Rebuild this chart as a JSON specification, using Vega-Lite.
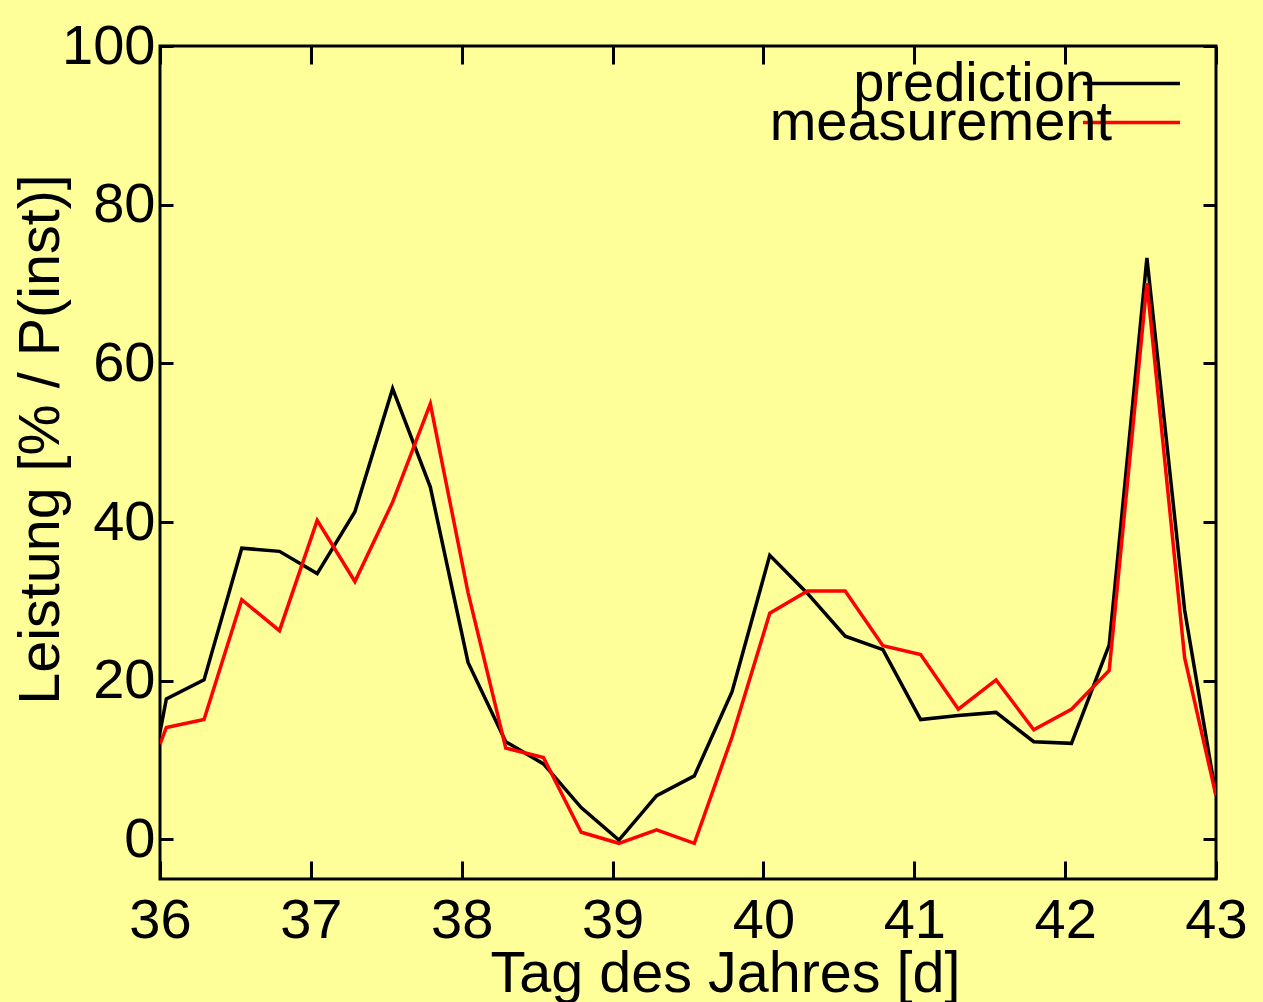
{
  "$schema": "https://vega.github.io/schema/vega-lite/v6.json",
  "autosize": "none",
  "width": 1056,
  "height": 833,
  "padding": {"left": 160, "top": 46, "right": 47, "bottom": 123},
  "background": "#FFFF99",
  "config": {
    "font": "Liberation Sans",
    "view": {"stroke": "#000000", "strokeWidth": 3, "fill": "#FFFF99"},
    "axis": {
      "domain": false,
      "grid": false,
      "tickColor": "#000000",
      "tickWidth": 3,
      "labelColor": "#000000",
      "labelFont": "Liberation Sans",
      "labelFontSize": 56,
      "labelFlush": false,
      "labelOverlap": false,
      "titleColor": "#000000",
      "titleFont": "Liberation Sans",
      "titleFontSize": 57.5,
      "titleFontWeight": "normal"
    },
    "legend": {
      "labelFont": "Liberation Sans",
      "labelFontSize": 56,
      "labelColor": "#000000",
      "labelLimit": 0,
      "orient": "none",
      "padding": 0,
      "symbolType": "stroke",
      "symbolSize": 9409,
      "symbolStrokeWidth": 3.5,
      "labelAlign": "right"
    }
  },
  "data": {
    "values": [
      {"day": 36.0, "value": 13.5, "series": "prediction"},
      {"day": 36.042, "value": 17.7, "series": "prediction"},
      {"day": 36.292, "value": 20.1, "series": "prediction"},
      {"day": 36.542, "value": 36.7, "series": "prediction"},
      {"day": 36.792, "value": 36.3, "series": "prediction"},
      {"day": 37.042, "value": 33.5, "series": "prediction"},
      {"day": 37.292, "value": 41.3, "series": "prediction"},
      {"day": 37.542, "value": 56.8, "series": "prediction"},
      {"day": 37.792, "value": 44.4, "series": "prediction"},
      {"day": 38.042, "value": 22.3, "series": "prediction"},
      {"day": 38.292, "value": 12.3, "series": "prediction"},
      {"day": 38.542, "value": 9.5, "series": "prediction"},
      {"day": 38.792, "value": 4.0, "series": "prediction"},
      {"day": 39.042, "value": -0.1, "series": "prediction"},
      {"day": 39.292, "value": 5.5, "series": "prediction"},
      {"day": 39.542, "value": 8.0, "series": "prediction"},
      {"day": 39.792, "value": 18.6, "series": "prediction"},
      {"day": 40.042, "value": 35.8, "series": "prediction"},
      {"day": 40.292, "value": 31.0, "series": "prediction"},
      {"day": 40.542, "value": 25.6, "series": "prediction"},
      {"day": 40.792, "value": 23.9, "series": "prediction"},
      {"day": 41.042, "value": 15.1, "series": "prediction"},
      {"day": 41.292, "value": 15.6, "series": "prediction"},
      {"day": 41.542, "value": 16.0, "series": "prediction"},
      {"day": 41.792, "value": 12.3, "series": "prediction"},
      {"day": 42.042, "value": 12.1, "series": "prediction"},
      {"day": 42.292, "value": 24.5, "series": "prediction"},
      {"day": 42.542, "value": 73.3, "series": "prediction"},
      {"day": 42.792, "value": 28.9, "series": "prediction"},
      {"day": 43.0, "value": 5.5, "series": "prediction"},
      {"day": 36.0, "value": 12.0, "series": "measurement"},
      {"day": 36.042, "value": 14.1, "series": "measurement"},
      {"day": 36.292, "value": 15.1, "series": "measurement"},
      {"day": 36.542, "value": 30.2, "series": "measurement"},
      {"day": 36.792, "value": 26.3, "series": "measurement"},
      {"day": 37.042, "value": 40.2, "series": "measurement"},
      {"day": 37.292, "value": 32.5, "series": "measurement"},
      {"day": 37.542, "value": 42.5, "series": "measurement"},
      {"day": 37.792, "value": 54.9, "series": "measurement"},
      {"day": 38.042, "value": 31.1, "series": "measurement"},
      {"day": 38.292, "value": 11.5, "series": "measurement"},
      {"day": 38.542, "value": 10.3, "series": "measurement"},
      {"day": 38.792, "value": 0.9, "series": "measurement"},
      {"day": 39.042, "value": -0.5, "series": "measurement"},
      {"day": 39.292, "value": 1.2, "series": "measurement"},
      {"day": 39.542, "value": -0.5, "series": "measurement"},
      {"day": 39.792, "value": 12.9, "series": "measurement"},
      {"day": 40.042, "value": 28.5, "series": "measurement"},
      {"day": 40.292, "value": 31.3, "series": "measurement"},
      {"day": 40.542, "value": 31.3, "series": "measurement"},
      {"day": 40.792, "value": 24.4, "series": "measurement"},
      {"day": 41.042, "value": 23.3, "series": "measurement"},
      {"day": 41.292, "value": 16.4, "series": "measurement"},
      {"day": 41.542, "value": 20.1, "series": "measurement"},
      {"day": 41.792, "value": 13.8, "series": "measurement"},
      {"day": 42.042, "value": 16.4, "series": "measurement"},
      {"day": 42.292, "value": 21.3, "series": "measurement"},
      {"day": 42.542, "value": 70.1, "series": "measurement"},
      {"day": 42.792, "value": 22.9, "series": "measurement"},
      {"day": 43.0, "value": 5.5, "series": "measurement"}
    ]
  },
  "resolve": {
    "axis": {"x": "independent", "y": "independent"},
    "scale": {"color": "independent"},
    "legend": {"color": "independent"}
  },
  "layer": [
    {
      "transform": [{"filter": "datum.series === 'prediction'"}],
      "mark": {"type": "line", "strokeWidth": 3.5, "clip": true},
      "encoding": {
        "x": {
          "field": "day",
          "type": "quantitative",
          "scale": {"domain": [36, 43], "nice": false, "zero": false},
          "axis": {
            "orient": "bottom",
            "values": [36, 37, 38, 39, 40, 41, 42, 43],
            "tickSize": -18,
            "labelPadding": 32,
            "labelBaseline": "top",
            "labelDx": 4,
            "title": "Tag des Jahres [d]",
            "titleX": 565,
            "titleY": 112,
            "titleBaseline": "alphabetic"
          }
        },
        "y": {
          "field": "value",
          "type": "quantitative",
          "scale": {"domain": [-5, 100], "nice": false, "zero": false},
          "axis": {
            "orient": "left",
            "values": [0, 20, 40, 60, 80, 100],
            "tickSize": -13,
            "labelPadding": 18,
            "title": "Leistung [% / P(inst)]",
            "titleX": -102,
            "titleY": 393,
            "titleBaseline": "alphabetic"
          }
        },
        "color": {
          "field": "series",
          "type": "nominal",
          "scale": {"domain": ["prediction"], "range": ["#000000"]},
          "legend": {
            "title": null,
            "legendX": 921,
            "legendY": -13,
            "labelOffset": -86
          }
        }
      }
    },
    {
      "transform": [{"filter": "datum.series === 'measurement'"}],
      "mark": {"type": "line", "strokeWidth": 3.5, "clip": true},
      "encoding": {
        "x": {"field": "day", "type": "quantitative", "axis": null},
        "y": {"field": "value", "type": "quantitative", "axis": null},
        "color": {
          "field": "series",
          "type": "nominal",
          "scale": {"domain": ["measurement"], "range": ["#ff0000"]},
          "legend": {
            "title": null,
            "legendX": 921,
            "legendY": 26,
            "labelOffset": -70
          }
        }
      }
    },
    {
      "mark": {"type": "line", "opacity": 0},
      "encoding": {
        "x": {
          "field": "day",
          "type": "quantitative",
          "axis": {
            "orient": "top",
            "values": [36, 37, 38, 39, 40, 41, 42, 43],
            "tickSize": -18,
            "labels": false,
            "title": null
          }
        },
        "y": {
          "field": "value",
          "type": "quantitative",
          "axis": {
            "orient": "right",
            "values": [0, 20, 40, 60, 80, 100],
            "tickSize": -13,
            "labels": false,
            "title": null
          }
        }
      }
    }
  ]
}
